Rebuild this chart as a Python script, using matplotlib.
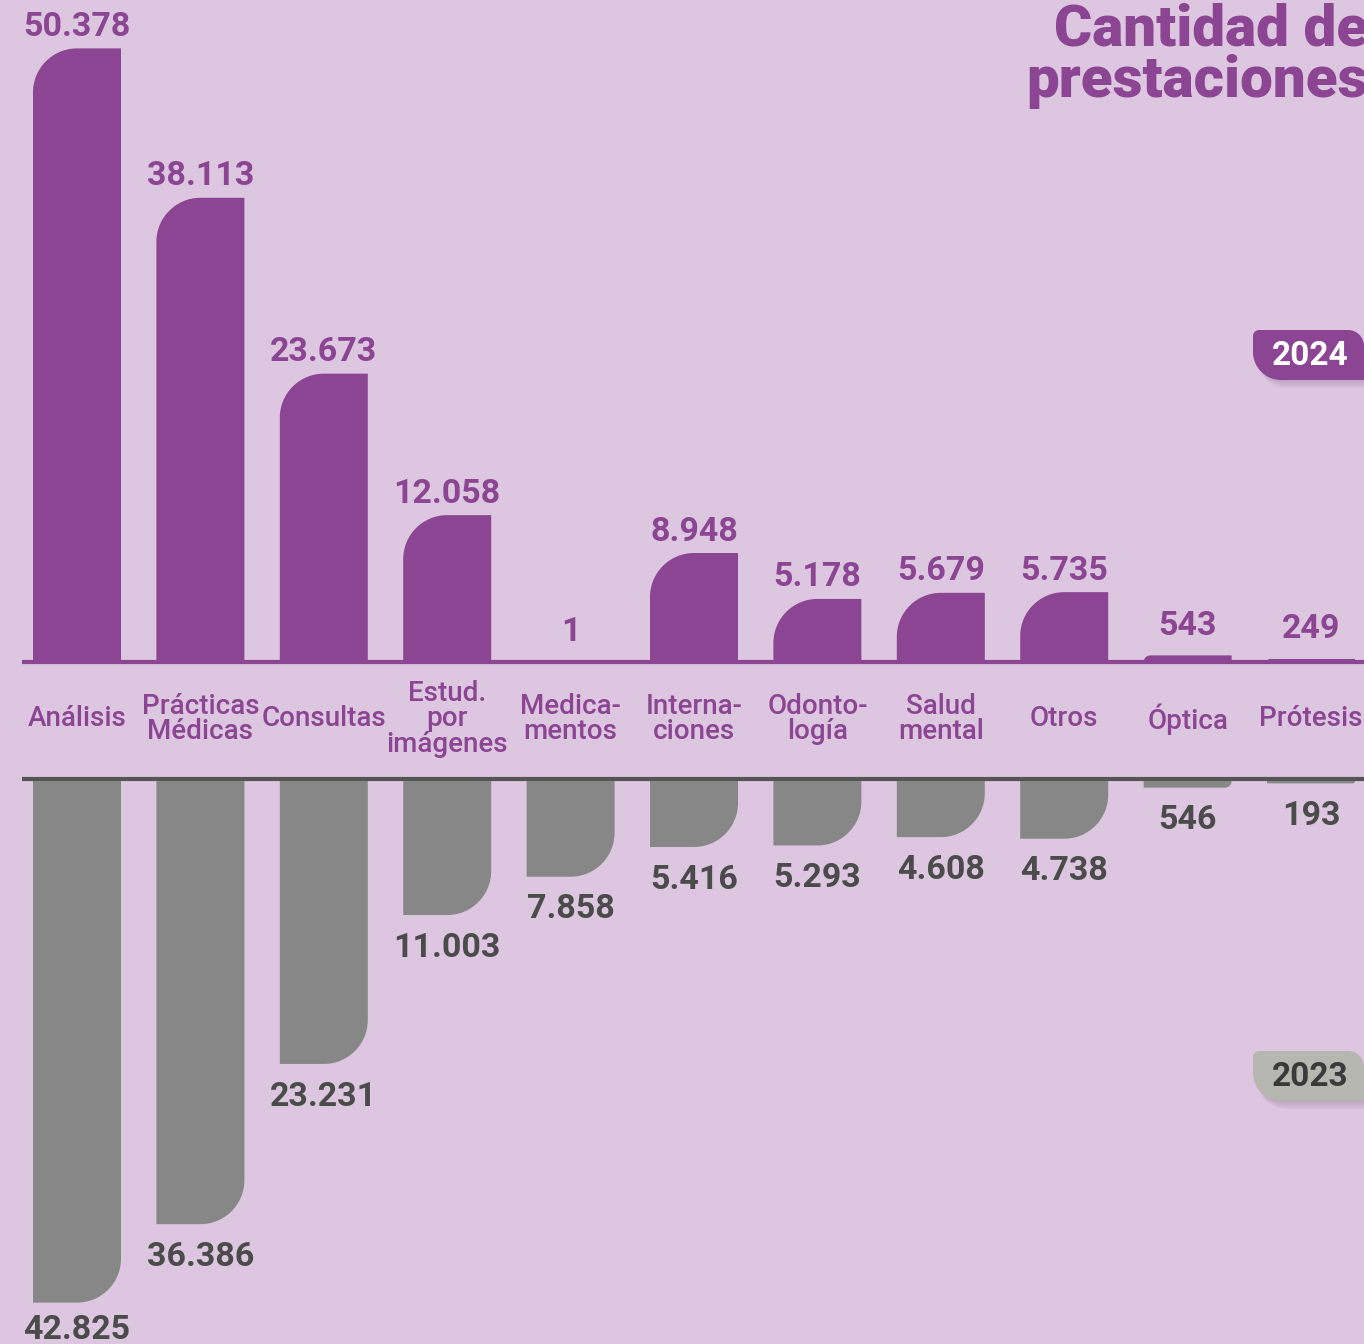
import matplotlib
matplotlib.use('Agg')
import matplotlib.pyplot as plt
from matplotlib.path import Path
from matplotlib.patches import PathPatch

# datos
categorias = ['Análisis', 'Prácticas\nMédicas', 'Consultas', 'Estud.\npor\nimágenes',
              'Medica-\nmentos', 'Interna-\nciones', 'Odonto-\nlogía', 'Salud\nmental',
              'Otros', 'Óptica', 'Prótesis']
valores_2024 = [50378, 38113, 23673, 12058, 1, 8948, 5178, 5679, 5735, 543, 249]
valores_2023 = [42825, 36386, 23231, 11003, 7858, 5416, 5293, 4608, 4738, 546, 193]
titulo = ['Cantidad de', 'prestaciones']

# colores
fondo = '#DDC6E0'
violeta = '#8B4592'
gris = '#878787'
gris_texto = '#4B4B4B'
gris_linea = '#555555'

W, H = 1364, 1344
plt.rcParams['font.family'] = ['Roboto', 'DejaVu Sans']

fig = plt.figure(figsize=(W / 100, H / 100), dpi=100, facecolor=fondo)

# escala: pixeles por unidad
px_x = 123.4
px_y = 0.01218
x0 = -77 / px_x
x1 = (W - 77) / px_x
ancho = 88 / px_x
radio = 44  # px

# capa en pixeles para lineas, etiquetas y titulo
deco = fig.add_axes([0, 0, 1, 1], zorder=0)
deco.set_xlim(0, W)
deco.set_ylim(H, 0)
deco.axis('off')

base_top = 662
base_bot = 781

ax_top = fig.add_axes([0, 1 - base_top / H, 1, base_top / H], zorder=1)
ax_top.set_xlim(x0, x1)
ax_top.set_ylim(0, base_top / px_y)
ax_bot = fig.add_axes([0, 0, 1, (H - base_bot) / H], zorder=1)
ax_bot.set_xlim(x0, x1)
ax_bot.set_ylim(-(H - base_bot) / px_y, 0)
for a in (ax_top, ax_bot):
    a.axis('off')
    a.patch.set_alpha(0)

K = 0.5523


def barra_sup(ax, xc, v):
    xa, xb = xc - ancho / 2, xc + ancho / 2
    r = min(radio, v * px_y)
    rx, ry = r / px_x, r / px_y
    verts = [(xa, 0), (xb, 0), (xb, v), (xa + rx, v),
             (xa + rx * (1 - K), v), (xa, v - ry * (1 - K)), (xa, v - ry),
             (xa, 0), (xa, 0)]
    codes = [Path.MOVETO, Path.LINETO, Path.LINETO, Path.LINETO,
             Path.CURVE4, Path.CURVE4, Path.CURVE4, Path.LINETO, Path.CLOSEPOLY]
    ax.add_patch(PathPatch(Path(verts, codes), fc=violeta, ec='none'))


def barra_inf(ax, xc, v):
    xa, xb = xc - ancho / 2, xc + ancho / 2
    r = min(radio, v * px_y)
    rx, ry = r / px_x, r / px_y
    verts = [(xa, 0), (xb, 0), (xb, -v + ry),
             (xb, -v + ry * (1 - K)), (xb - rx * (1 - K), -v), (xb - rx, -v),
             (xa, -v), (xa, 0), (xa, 0)]
    codes = [Path.MOVETO, Path.LINETO, Path.LINETO,
             Path.CURVE4, Path.CURVE4, Path.CURVE4,
             Path.LINETO, Path.LINETO, Path.CLOSEPOLY]
    ax.add_patch(PathPatch(Path(verts, codes), fc=gris, ec='none'))


def fmt(v):
    return f'{v:,}'.replace(',', '.')


for i, (v24, v23) in enumerate(zip(valores_2024, valores_2023)):
    barra_sup(ax_top, i, v24)
    barra_inf(ax_bot, i, v23)
    off_sup = 9 if v24 * px_y > 10 else 15
    ax_top.annotate(fmt(v24), (i, v24), xytext=(0, off_sup), textcoords='offset points',
                    ha='center', va='baseline', fontsize=24.5, fontweight='bold',
                    color=violeta, annotation_clip=False)
    off_inf = -12 if v23 < 40000 else -8
    ax_bot.annotate(fmt(v23), (i, -v23), xytext=(0, off_inf), textcoords='offset points',
                    ha='center', va='top', fontsize=24.5, fontweight='bold',
                    color=gris_texto, annotation_clip=False)
    deco.text(77 + i * px_x, 719, categorias[i], ha='center', va='center',
              fontsize=20, fontweight='medium', color=violeta, linespacing=0.92)

# lineas base
deco.plot([22, W], [662, 662], color=violeta, lw=3, solid_capstyle='butt')
deco.plot([22, W], [779, 779], color=gris_linea, lw=3, solid_capstyle='butt')

# titulo (apenas cortado en el borde como en el original)
deco.text(1368, 45, titulo[0], ha='right', va='baseline', fontsize=42,
          fontweight='black', color=violeta)
deco.text(1368, 97, titulo[1], ha='right', va='baseline', fontsize=42,
          fontweight='black', color=violeta)


def etiqueta(xa, ya, xb, yb, rtl, rtr, rbr, rbl):
    # rectangulo en pixeles (y hacia abajo) con radios por esquina
    verts, codes = [], []

    def arco(c1, c2, p1):
        verts.extend([c1, c2, p1])
        codes.extend([Path.CURVE4] * 3)

    verts.append((xa + rtl, ya)); codes.append(Path.MOVETO)
    verts.append((xb - rtr, ya)); codes.append(Path.LINETO)
    arco((xb - rtr * (1 - K), ya), (xb, ya + rtr * (1 - K)), (xb, ya + rtr))
    verts.append((xb, yb - rbr)); codes.append(Path.LINETO)
    arco((xb, yb - rbr * (1 - K)), (xb - rbr * (1 - K), yb), (xb - rbr, yb))
    verts.append((xa + rbl, yb)); codes.append(Path.LINETO)
    arco((xa + rbl * (1 - K), yb), (xa, yb - rbl * (1 - K)), (xa, yb - rbl))
    verts.append((xa, ya + rtl)); codes.append(Path.LINETO)
    arco((xa, ya + rtl * (1 - K)), (xa + rtl * (1 - K), ya), (xa + rtl, ya))
    verts.append((xa + rtl, ya)); codes.append(Path.CLOSEPOLY)
    return Path(verts, codes)


for (y, fc, tc, txt) in [(330, violeta, 'white', '2024'), (1051, '#B7B7B2', '#3A3A3A', '2023')]:
    for k in range(1, 6):
        sombra = etiqueta(1255 + k * 0.6, y + k * 1.6, 1364, y + 50 + k * 1.6, 6, 16, 0, 28)
        deco.add_patch(PathPatch(sombra, fc='#6E4A72', ec='none', alpha=0.05))
    p = etiqueta(1253, y, 1364, y + 50, 6, 16, 0, 28)
    deco.add_patch(PathPatch(p, fc=fc, ec='none'))
    deco.text(1310, y + 26, txt, ha='center', va='center', fontsize=24,
              fontweight='bold', color=tc)

fig.savefig('out.png', dpi=100, facecolor=fondo)
